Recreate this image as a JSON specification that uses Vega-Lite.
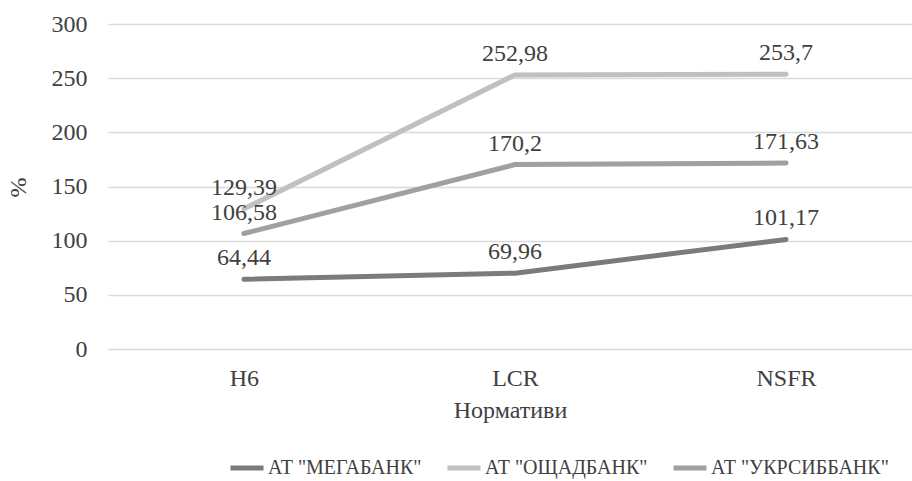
{
  "$schema": "https://vega.github.io/schema/vega-lite/v6.json",
  "autosize": {"type": "none"},
  "width": 804,
  "height": 325,
  "padding": {"left": 108, "top": 24, "right": 0, "bottom": 132},
  "background": "white",
  "config": {
    "view": {"stroke": null},
    "font": "Liberation Serif",
    "axis": {"labelFont": "Liberation Serif", "titleFont": "Liberation Serif", "labelColor": "#404040", "titleColor": "#404040", "titleFontWeight": "normal"},
    "legend": {"labelFont": "Liberation Serif"}
  },
  "data": {
    "values": [
      {"n": "H6", "bank": "АТ \"МЕГАБАНК\"", "v": 64.44, "label": "64,44"},
      {"n": "LCR", "bank": "АТ \"МЕГАБАНК\"", "v": 69.96, "label": "69,96"},
      {"n": "NSFR", "bank": "АТ \"МЕГАБАНК\"", "v": 101.17, "label": "101,17"},
      {"n": "H6", "bank": "АТ \"ОЩАДБАНК\"", "v": 129.39, "label": "129,39"},
      {"n": "LCR", "bank": "АТ \"ОЩАДБАНК\"", "v": 252.98, "label": "252,98"},
      {"n": "NSFR", "bank": "АТ \"ОЩАДБАНК\"", "v": 253.7, "label": "253,7"},
      {"n": "H6", "bank": "АТ \"УКРСИББАНК\"", "v": 106.58, "label": "106,58"},
      {"n": "LCR", "bank": "АТ \"УКРСИББАНК\"", "v": 170.2, "label": "170,2"},
      {"n": "NSFR", "bank": "АТ \"УКРСИББАНК\"", "v": 171.63, "label": "171,63"}
    ]
  },
  "encoding": {
    "x": {
      "field": "n", "type": "nominal", "sort": ["H6", "LCR", "NSFR"],
      "scale": {"type": "point", "padding": 0.483, "align": 0.519},
      "axis": {"title": "Нормативи", "labelAngle": 0, "labelFontSize": 24, "titleFontSize": 24, "domain": false, "ticks": false, "grid": false, "labelPadding": 17, "titlePadding": 8}
    },
    "y": {
      "field": "v", "type": "quantitative",
      "scale": {"domain": [0, 300]},
      "axis": {"title": "%", "values": [0, 50, 100, 150, 200, 250, 300], "labelFontSize": 24, "titleFontSize": 24, "domain": false, "ticks": false, "gridColor": "#d9d9d9", "gridWidth": 1.5, "labelPadding": 21, "titleX": -78, "titleY": 163, "titleAngle": -90}
    },
    "color": {
      "field": "bank", "type": "nominal",
      "scale": {"domain": ["АТ \"МЕГАБАНК\"", "АТ \"ОЩАДБАНК\"", "АТ \"УКРСИББАНК\""], "range": ["#7b7b7b", "#c0c0c0", "#a0a0a0"]}
    }
  },
  "layer": [
    {
      "mark": {"type": "line", "strokeWidth": 5, "strokeCap": "round"},
      "encoding": {
        "color": {
          "field": "bank", "type": "nominal",
          "legend": {"title": null, "orient": "none", "direction": "horizontal", "legendX": 120, "legendY": 425, "padding": 0, "symbolType": "stroke", "symbolStrokeWidth": 5, "symbolSize": 1089, "labelFontSize": 20, "labelLimit": 400, "labelColor": "#404040", "columnPadding": 15, "labelOffset": 2}
        }
      }
    },
    {
      "mark": {"type": "text", "baseline": "alphabetic", "dy": -14, "fontSize": 24, "color": "#404040"},
      "encoding": {"text": {"field": "label"}, "color": {"value": "#404040"}}
    }
  ]
}
